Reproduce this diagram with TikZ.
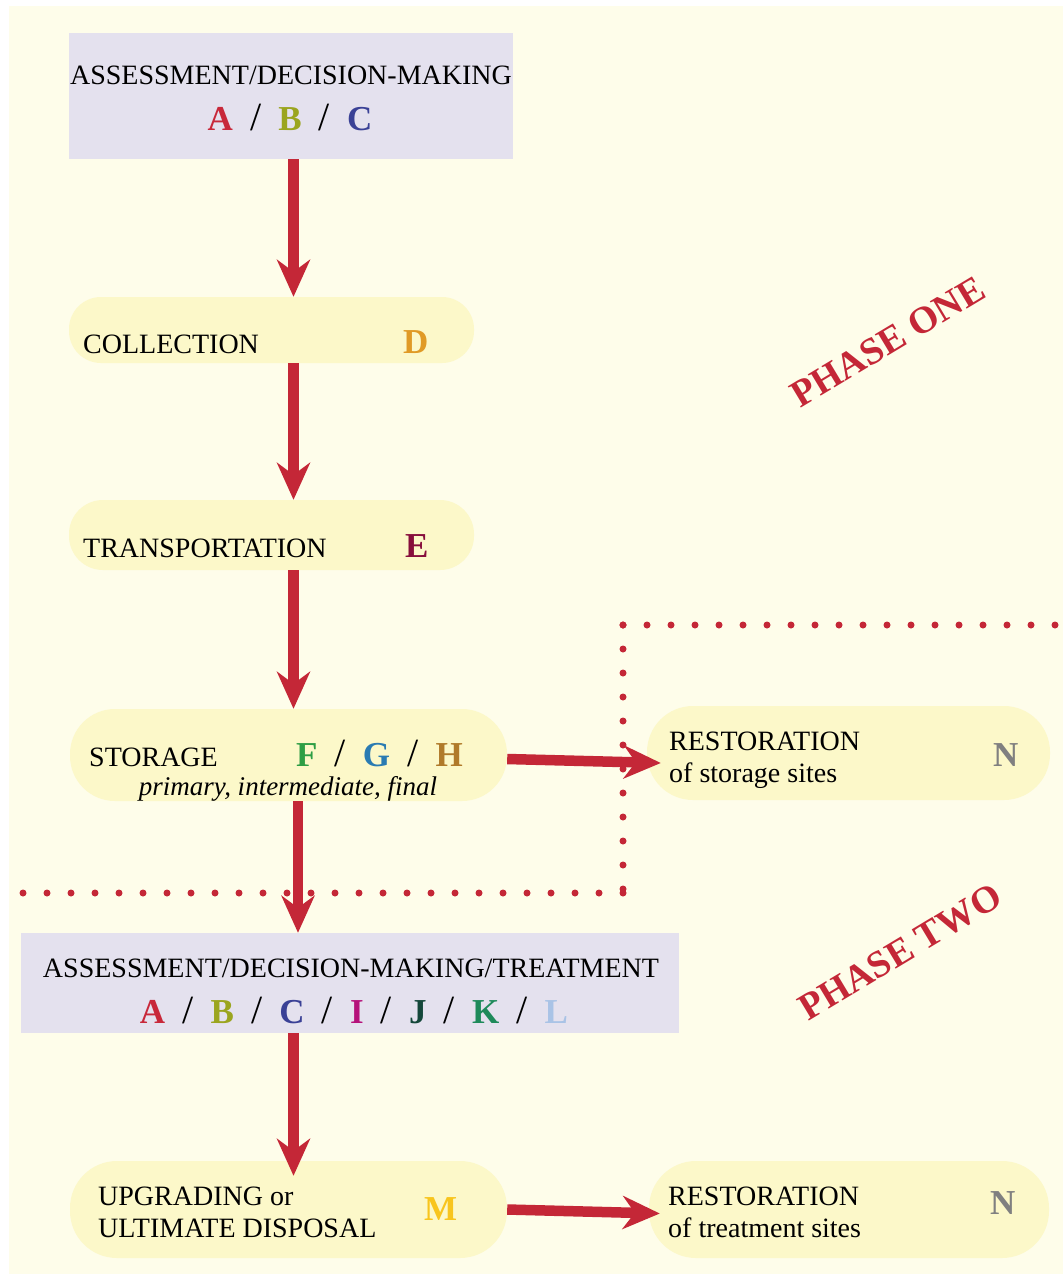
\documentclass[tikz,border=0pt]{standalone}
\usepackage{fontspec}
\setmainfont{Liberation Serif}
\usetikzlibrary{arrows.meta,calc}

\definecolor{bgyellow}{HTML}{FEFDEA}
\definecolor{pillyellow}{HTML}{FCF8C9}
\definecolor{lavender}{HTML}{E4E1EE}
\definecolor{flowred}{HTML}{C42737}
\definecolor{colA}{HTML}{C8283A}
\definecolor{colB}{HTML}{9BA51F}
\definecolor{colC}{HTML}{3A4196}
\definecolor{colD}{HTML}{E09A25}
\definecolor{colE}{HTML}{870E3C}
\definecolor{colF}{HTML}{2E9E45}
\definecolor{colG}{HTML}{2A7BB2}
\definecolor{colH}{HTML}{B07A2A}
\definecolor{colI}{HTML}{B5117A}
\definecolor{colJ}{HTML}{14473A}
\definecolor{colK}{HTML}{1E8A5A}
\definecolor{colL}{HTML}{A9C3E6}
\definecolor{colM}{HTML}{F8C51E}
\definecolor{colN}{HTML}{808080}

\newcommand{\slashsep}{\hspace{0.49em}{\fontsize{40}{40}\selectfont/}\hspace{0.49em}}

\tikzset{
  box/.style={fill=lavender, inner sep=0pt},
  pill/.style={fill=pillyellow, inner sep=0pt},
  flow/.style={draw=flowred, line width=10.5pt, -{Stealth[length=37pt,width=33pt,inset=12pt]}},
  txt/.style={anchor=base west, inner sep=0pt, font=\fontsize{28}{32}\selectfont},
  letters/.style={anchor=base, inner sep=0pt, font=\fontsize{35}{40}\selectfont},
  phase/.style={text=flowred, inner sep=0pt, font=\fontsize{38}{40}\selectfont\bfseries},
  dots/.style={draw=flowred, line width=7pt, line cap=round, dash pattern=on 0pt off 24pt}
}

\begin{document}
\begin{tikzpicture}[x=1pt,y=-1pt]
\useasboundingbox (0,0) rectangle (1063,1274);
\fill[bgyellow] (9,6) rectangle (1063,1274);

% phase one
\node[box, minimum width=444pt, minimum height=126pt] (assess) at (291,96) {};
\node[txt, anchor=base] (assesstxt) at (291,84) {ASSESSMENT/DECISION-MAKING};
\node[letters] (abc) at (290,130) {\textbf{\color{colA}A}\slashsep\textbf{\color{colB}B}\slashsep\textbf{\color{colC}C}};

\node[pill, rounded corners=32pt, minimum width=405pt, minimum height=66pt] (coll) at (271.5,330) {};
\node[txt] (colltxt) at (83,353) {COLLECTION};
\node[letters, anchor=base west, text=colD] (collD) at (403,353) {\textbf{D}};

\node[pill, rounded corners=34pt, minimum width=405pt, minimum height=70pt] (trans) at (271.5,535) {};
\node[txt] (transtxt) at (83,557) {TRANSPORTATION};
\node[letters, anchor=base west, text=colE] (transE) at (405,557) {\textbf{E}};

\node[pill, rounded corners=45pt, minimum width=437pt, minimum height=92pt] (store) at (288.5,755) {};
\node[txt] (storetxt) at (89,766) {STORAGE};
\node[letters, anchor=base west] (fgh) at (296,766) {\textbf{\color{colF}F}\slashsep\textbf{\color{colG}G}\slashsep\textbf{\color{colH}H}};
\node[txt, anchor=base, font=\fontsize{27}{30}\selectfont\itshape] (storesub) at (288,795) {primary, intermediate, final};

\node[pill, rounded corners=46pt, minimum width=403pt, minimum height=94pt] (rest1) at (848.5,753) {};
\node[txt] (rest1top) at (669,750) {RESTORATION};
\node[txt] (rest1bot) at (669,782) {of storage sites};
\node[letters, anchor=base west, text=colN] (rest1N) at (993,766) {\textbf{N}};

\node[phase, rotate=31] (phaseone) at (888,342) {PHASE ONE};

% boundary between the phases
\coordinate (dotA) at (1063,625);
\coordinate (dotB) at (623,625);
\coordinate (dotC) at (623,893);
\coordinate (dotD) at (18,893);
\draw[dots] (dotB) -- (dotA);
\draw[dots] (dotB) -- (dotC);
\draw[dots] (dotC) -- (dotD);

% phase two
\node[box, minimum width=658pt, minimum height=100pt] (treat) at (350,983) {};
\node[txt, anchor=base] (treattxt) at (351,977) {ASSESSMENT/DECISION-MAKING/TREATMENT};
\node[letters] (atol) at (354,1023) {\textbf{\color{colA}A}\slashsep\textbf{\color{colB}B}\slashsep\textbf{\color{colC}C}\slashsep\textbf{\color{colI}I}\slashsep\textbf{\color{colJ}J}\slashsep\textbf{\color{colK}K}\slashsep\textbf{\color{colL}L}};

\node[pill, rounded corners=47pt, minimum width=437pt, minimum height=97pt] (upg) at (288.5,1209.5) {};
\node[txt] (upgtop) at (98,1205) {UPGRADING or};
\node[txt] (upgbot) at (98,1237) {ULTIMATE DISPOSAL};
\node[letters, anchor=base west, text=colM] (upgM) at (424,1220) {\textbf{M}};

\node[pill, rounded corners=47pt, minimum width=400pt, minimum height=97pt] (rest2) at (849,1209.5) {};
\node[txt] (rest2top) at (668,1205) {RESTORATION};
\node[txt] (rest2bot) at (668,1237) {of treatment sites};
\node[letters, anchor=base west, text=colN] (rest2N) at (990,1214) {\textbf{N}};

\node[phase, rotate=31] (phasetwo) at (900,952) {PHASE TWO};

% arrows
\coordinate (spine) at (293.5,0);
\draw[flow] (assess.south -| spine) -- (coll.north -| spine);
\draw[flow] (coll.south -| spine) -- (trans.north -| spine);
\draw[flow] (trans.south -| spine) -- (store.north -| spine);
\draw[flow] ($(store.south)+(9.5,0)$) -- ($(treat.north -| store.south)+(9.5,0)$);
\draw[flow] (treat.south -| spine) -- ($(upg.north -| spine)+(0,15)$);
\draw[flow] ($(store.east)+(0,4)$) -- ($(rest1.west)+(14,10)$);
\draw[flow] (upg.east) -- ($(rest2.west)+(11,4)$);

\end{tikzpicture}
\end{document}
